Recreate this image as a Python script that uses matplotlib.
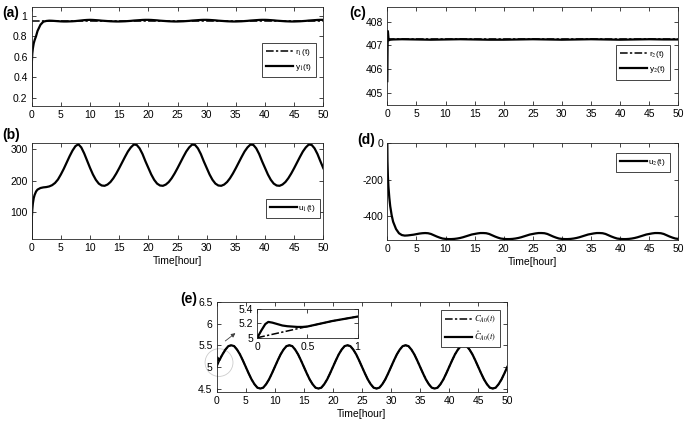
import numpy as np
import matplotlib
matplotlib.use("Agg")
import matplotlib.pyplot as plt
from matplotlib.patches import Ellipse

plt.rcParams['font.family'] = ['Liberation Sans', 'DejaVu Sans']
plt.rcParams['font.size'] = 7.5
plt.rcParams['mathtext.fontset'] = 'stix'
plt.rcParams['axes.unicode_minus'] = False

# time grid [hour]
t_early = [0, 0.03, 0.1, 0.2, 0.35, 0.5, 0.75, 1.0, 1.5]
t_late = list(np.arange(2.0, 50.01, 0.5))
t = t_early + t_late

# (a) y1 and set point r1
r1 = [0.95, 0.95]
y1 = [0.20, 0.55, 0.63, 0.68, 0.73, 0.76, 0.80, 0.85, 0.91,
      0.940, 0.947, 0.950, 0.949, 0.947, 0.945, 0.943, 0.942, 0.942, 0.943, 0.944, 0.946, 0.949, 0.952, 0.955, 0.957,
      0.958, 0.957, 0.955, 0.953, 0.950, 0.948, 0.946, 0.944, 0.943, 0.942, 0.942, 0.943, 0.944, 0.946, 0.948, 0.951, 0.953, 0.955, 0.957, 0.958,
      0.958, 0.957, 0.955, 0.953, 0.950, 0.948, 0.946, 0.944, 0.943, 0.942, 0.942, 0.943, 0.944, 0.946, 0.948, 0.951, 0.953, 0.955, 0.957, 0.958,
      0.958, 0.957, 0.955, 0.953, 0.950, 0.948, 0.946, 0.944, 0.943, 0.942, 0.942, 0.943, 0.944, 0.946, 0.948, 0.951, 0.953, 0.955, 0.957, 0.958,
      0.958, 0.957, 0.955, 0.953, 0.950, 0.948, 0.946, 0.944, 0.943, 0.942, 0.942, 0.943, 0.944, 0.946, 0.948, 0.951, 0.953, 0.955, 0.957, 0.958,
      0.958]

# (b) u1
u1 = [15, 85, 108, 128, 145, 155, 166, 172, 177,
      179, 180, 182, 186, 193, 204, 220, 238, 258, 278, 296, 310, 316, 306, 287, 264,
      241, 220, 203, 191, 185, 184, 188, 196, 208, 223, 240, 258, 276, 293, 306, 315, 314, 303, 285, 262,
      241, 220, 203, 191, 185, 184, 188, 196, 208, 223, 240, 258, 276, 293, 306, 315, 314, 303, 285, 262,
      241, 220, 203, 191, 185, 184, 188, 196, 208, 223, 240, 258, 276, 293, 306, 315, 314, 303, 285, 262,
      241, 220, 203, 191, 185, 184, 188, 196, 208, 223, 240, 258, 276, 293, 306, 315, 314, 303, 285, 262,
      240]

# (c) y2 and set point r2
t_c = [0, 0.05, 0.1, 0.15, 0.2, 0.3, 0.5, 1.0,
       2.5, 5, 7.5, 10, 12.5, 15, 17.5, 20, 22.5, 25, 27.5, 30, 32.5, 35, 37.5, 40, 42.5, 45, 47.5, 50]
r2 = [407.25, 407.25]
y2 = [405.5, 407.0, 407.6, 407.45, 407.3, 407.22, 407.24, 407.25,
      407.26, 407.25, 407.24, 407.25, 407.26, 407.25, 407.24, 407.24, 407.25, 407.26,
      407.25, 407.24, 407.25, 407.26, 407.25, 407.24, 407.25, 407.26, 407.25, 407.25]

# (d) u2
u2 = [0, -100, -180, -240, -300, -345, -395, -430, -470,
      -493, -503, -506, -505, -503, -501, -498, -495, -493, -492, -493, -497, -504, -511, -517, -522,
      -524, -525, -525, -524, -522, -519, -515, -510, -505, -500, -497, -494, -492, -492, -493, -497, -504, -511, -517, -522,
      -524, -525, -525, -524, -522, -519, -515, -510, -505, -500, -497, -494, -492, -492, -493, -497, -504, -511, -517, -522,
      -524, -525, -525, -524, -522, -519, -515, -510, -505, -500, -497, -494, -492, -492, -493, -497, -504, -511, -517, -522,
      -524, -525, -525, -524, -522, -519, -515, -510, -505, -500, -497, -494, -492, -492, -493, -497, -504, -511, -517, -522,
      -524]

# (e) C_A0 and its estimate
c_a0_late = [5.48, 5.50, 5.48, 5.40, 5.29, 5.15, 5.00, 4.85, 4.71, 4.60, 4.52, 4.50, 4.52, 4.60, 4.71, 4.85,
             5.00, 5.15, 5.29, 5.40, 5.48, 5.50, 5.48, 5.40, 5.29, 5.15, 5.00, 4.85, 4.71, 4.60, 4.52, 4.50, 4.52, 4.60, 4.71, 4.85,
             5.00, 5.15, 5.29, 5.40, 5.48, 5.50, 5.48, 5.40, 5.29, 5.15, 5.00, 4.85, 4.71, 4.60, 4.52, 4.50, 4.52, 4.60, 4.71, 4.85,
             5.00, 5.15, 5.29, 5.40, 5.48, 5.50, 5.48, 5.40, 5.29, 5.15, 5.00, 4.85, 4.71, 4.60, 4.52, 4.50, 4.52, 4.60, 4.71, 4.85,
             5.00, 5.15, 5.29, 5.40, 5.48, 5.50, 5.48, 5.40, 5.29, 5.15, 5.00, 4.85, 4.71, 4.60, 4.52, 4.50, 4.52, 4.60, 4.71, 4.85,
             5.00]
c_a0 = [5.00, 5.01, 5.03, 5.06, 5.11, 5.155, 5.23, 5.29, 5.40] + c_a0_late
c_hat = [5.00, 5.08, 5.22, 5.19, 5.155, 5.16, 5.23, 5.29, 5.40] + c_a0_late

# inset of (e), first hour
t_in = [0, 0.04, 0.08, 0.11, 0.15, 0.2, 0.25, 0.3, 0.35, 0.4, 0.45, 0.5, 0.75, 1.0]
c_hat_in = [5.0, 5.10, 5.19, 5.22, 5.21, 5.19, 5.17, 5.16, 5.155, 5.15, 5.15, 5.156, 5.233, 5.294]
t_in_ref = [0, 0.25, 0.5, 0.75, 1.0]
c_a0_in = [5.0, 5.078, 5.156, 5.233, 5.294]

W, H = 685, 421
fig = plt.figure(figsize=(W / 100, H / 100), dpi=100)


def box(l, top, r, b):
    # pixel box -> figure axes
    return fig.add_axes([l / W, 1 - b / H, (r - l) / W, (b - top) / H])


def style(ax):
    ax.tick_params(direction='in', top=True, right=True, length=3, width=0.6, colors='0.15', labelcolor='black', pad=3)
    for s in ax.spines.values():
        s.set_linewidth(0.6)
        s.set_color('0.15')


def leg(ax, x, y):
    lg = ax.legend(loc='upper right', bbox_to_anchor=(x, y), borderaxespad=0, fancybox=False,
                   edgecolor='0.15', fontsize=6, handlelength=3.2, handletextpad=0.2, borderpad=0.5,
                   labelspacing=0.5, framealpha=1)
    lg.get_frame().set_linewidth(0.6)


lw = 1.6
dashdot = (0, (5, 1.5, 1.5, 1.5))

# (a)
ax = box(31.7, 7.3, 323.3, 106)
ax.plot([0, 50], r1, color='black', lw=1.1, linestyle=dashdot, label='r$_1$(t)')
ax.plot(t, y1, color='black', lw=lw, label='y$_1$(t)')
ax.set_xlim(0, 50)
ax.set_ylim(0.12, 1.08)
ax.set_xticks(range(0, 51, 5))
ax.set_yticks([0.2, 0.4, 0.6, 0.8, 1])
ax.set_yticklabels(['0.2', '0.4', '0.6', '0.8', '1'])
style(ax)
leg(ax, 0.975, 0.64)
fig.text(2 / W, 1 - 13 / H, '(a)', fontsize=10, fontweight='bold', va='center')

# (b)
ax = box(31.7, 143, 323.3, 239)
ax.plot(t, u1, color='black', lw=lw, label='u$_1$(t)')
ax.set_xlim(0, 50)
ax.set_ylim(15, 320)
ax.set_xticks(range(0, 51, 5))
ax.set_yticks([100, 200, 300])
ax.set_xlabel('Time[hour]', labelpad=2)
style(ax)
leg(ax, 0.989, 0.417)
fig.text(2 / W, 1 - 135 / H, '(b)', fontsize=10, fontweight='bold', va='center')

# (c)
ax = box(387.3, 7.3, 678.3, 105)
ax.plot([0, 50], r2, color='black', lw=1.1, linestyle=dashdot, label='r$_2$(t)')
ax.plot(t_c, y2, color='black', lw=lw, label='y$_2$(t)')
ax.set_xlim(0, 50)
ax.set_ylim(404.5, 408.6)
ax.set_xticks(range(0, 51, 5))
ax.set_yticks([405, 406, 407, 408])
style(ax)
leg(ax, 0.971, 0.614)
fig.text(349 / W, 1 - 13 / H, '(c)', fontsize=10, fontweight='bold', va='center')

# (d)
ax = box(387.3, 143, 678.3, 240)
ax.plot(t, u2, color='black', lw=lw, label='u$_2$(t)')
ax.set_xlim(0, 50)
ax.set_ylim(-530, 0)
ax.set_xticks(range(0, 51, 5))
ax.set_yticks([-400, -200, 0])
ax.set_xlabel('Time[hour]', labelpad=2)
style(ax)
leg(ax, 0.971, 0.897)
fig.text(357 / W, 1 - 140 / H, '(d)', fontsize=10, fontweight='bold', va='center')

# (e)
ax = box(216.7, 302, 507.3, 392)
ax.plot(t, c_a0, color='black', lw=1.1, linestyle=dashdot, label=r'$C_{A0}(t)$')
ax.plot(t, c_hat, color='black', lw=lw, label=r'$\hat{C}_{A0}(t)$')
ax.set_xlim(0, 50)
ax.set_ylim(4.42, 6.5)
ax.set_xticks(range(0, 51, 5))
ax.set_yticks([4.5, 5, 5.5, 6, 6.5])
ax.set_yticklabels(['4.5', '5', '5.5', '6', '6.5'])
ax.set_xlabel('Time[hour]', labelpad=2)
style(ax)
leg(ax, 0.975, 0.91)
ax.add_patch(Ellipse((0.4, 5.1), 4.8, 0.64, fill=False, edgecolor='0.8', lw=0.6, clip_on=False))
ax.annotate('', xy=(3.6, 5.82), xytext=(1.1, 5.56),
            arrowprops=dict(arrowstyle='-|>', color='0.25', lw=0.6, mutation_scale=6))
fig.text(180 / W, 1 - 299 / H, '(e)', fontsize=10, fontweight='bold', va='center')

axi = box(257.3, 309, 357.5, 337.7)
axi.plot(t_in_ref, c_a0_in, color='black', lw=1.1, linestyle=dashdot)
axi.plot(t_in, c_hat_in, color='black', lw=lw)
axi.set_xlim(0, 1)
axi.set_ylim(5, 5.4)
axi.set_xticks([0, 0.5, 1])
axi.set_xticklabels(['0', '0.5', '1'])
axi.set_yticks([5, 5.2, 5.4])
axi.set_yticklabels(['5', '5.2', '5.4'])
style(axi)

fig.savefig('out.png', dpi=100)
